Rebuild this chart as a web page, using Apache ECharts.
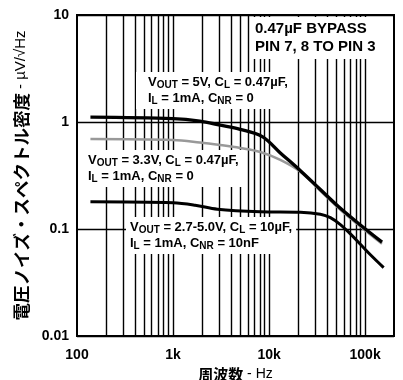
<!DOCTYPE html>
<html>
<head>
<meta charset="utf-8">
<script src="https://cdn.jsdelivr.net/npm/echarts@6/dist/echarts.min.js"></script>
<style>
    html, body { margin: 0; padding: 0; background: #fff; }
    #chart { width: 403px; height: 380px; }
</style>
</head>
<body>
<div id="chart"></div>
<script>
// 曲线数据 (频率 Hz, 噪声 µV/√Hz)
var freq5V = [138, 1000, 1900, 3100, 5000, 8500, 13100, 21200, 34200, 55300, 89300, 150000];
var noise5V = [1.11, 1.075, 1.02, 0.935, 0.855, 0.73, 0.514, 0.351, 0.234, 0.156, 0.109, 0.0754];

var freq33V = [138, 1000, 1900, 3100, 5000, 8100, 13100, 21200, 34200, 55300, 89300, 150000];
var noise33V = [0.692, 0.678, 0.643, 0.609, 0.572, 0.525, 0.443, 0.343, 0.227, 0.151, 0.1055, 0.0727];

var freq10uF = [138, 1000, 1700, 2900, 8100, 21200, 34200, 43500, 55300, 70300, 89300, 113600, 156000];
var noise10uF = [0.18, 0.176, 0.167, 0.153, 0.145, 0.1435, 0.1375, 0.1277, 0.11, 0.09, 0.072, 0.0575, 0.0436];

// 坐标轴刻度
var xTickLabels = { 2: '100', 3: '1k', 4: '10k', 5: '100k' };
var yTickLabels = { 1: '10', 0: '1', '-1': '0.1', '-2': '0.01' };
var gridFreqs = [];
[100, 1000, 10000].forEach(function (d) {
    for (var m = 2; m <= 10; m++) {
        gridFreqs.push(d * m);
    }
});

function pairs(xs, ys) {
    return xs.map(function (x, i) { return [x, ys[i]]; });
}

var chart = echarts.init(document.getElementById('chart'));

var noteRich = {
    t: { fontFamily: 'Liberation Sans', fontWeight: 'bold', fontSize: 13, fill: '#000' },
    s: { fontFamily: 'Liberation Sans', fontWeight: 'bold', fontSize: 10, fill: '#000', padding: [6, 0, 0, 0] }
};

function note(left, top, text, pad) {
    return {
        type: 'text',
        left: left,
        top: top,
        z: 1,
        style: {
            text: text,
            rich: noteRich,
            lineHeight: 16,
            fill: '#000',
            backgroundColor: '#fff',
            padding: pad
        }
    };
}

var option = {
    backgroundColor: '#fff',
    animation: false,
    grid: {
        left: 77,
        right: 9,
        top: 15,
        bottom: 44,
        outerBoundsMode: 'none',
        containLabel: false,
        show: true,
        borderColor: '#000',
        borderWidth: 2,
        backgroundColor: 'transparent'
    },
    xAxis: {
        type: 'log',
        logBase: 10,
        min: 100,
        max: 200000,
        axisLine: { show: false },
        axisTick: { show: false },
        splitLine: { show: false },
        axisLabel: {
            margin: 12,
            color: '#000',
            fontFamily: 'Liberation Sans',
            fontWeight: 'bold',
            fontSize: 14,
            formatter: function (v) {
                var k = Math.round(Math.log10(v));
                return Math.abs(Math.log10(v) - k) < 1e-6 && xTickLabels[k] ? xTickLabels[k] : '';
            }
        },
        name: '{b|周波数}{n| - Hz}',
        nameLocation: 'middle',
        nameGap: 28,
        nameTextStyle: {
            rich: {
                b: { fontFamily: 'Noto Sans CJK JP', fontWeight: 'bold', fontSize: 15, color: '#000' },
                n: { fontFamily: 'Liberation Sans', fontSize: 14, color: '#000' }
            }
        }
    },
    yAxis: {
        type: 'log',
        logBase: 10,
        min: 0.01,
        max: 10,
        axisLine: { show: false },
        axisTick: { show: false },
        splitLine: { show: true, lineStyle: { color: '#000', width: 1.3 } },
        axisLabel: {
            margin: 8,
            color: '#000',
            fontFamily: 'Liberation Sans',
            fontWeight: 'bold',
            fontSize: 14,
            formatter: function (v) {
                var k = Math.round(Math.log10(v));
                return yTickLabels[k] || '';
            }
        },
        name: '{b|電圧ノイズ・スペクトル密度}{n| - µV/√Hz}',
        nameLocation: 'middle',
        nameRotate: 90,
        nameGap: 47,
        nameTextStyle: {
            rich: {
                b: { fontFamily: 'Noto Sans CJK JP', fontWeight: 'bold', fontSize: 17.5, color: '#000' },
                n: { fontFamily: 'Liberation Sans', fontSize: 15, color: '#000' }
            }
        }
    },
    graphic: [
        {
            type: 'text',
            left: 251,
            top: 17,
            z: 1,
            style: {
                text: '0.47µF BYPASS\nPIN 7, 8 TO PIN 3',
                font: 'bold 15px "Liberation Sans"',
                lineHeight: 18,
                fill: '#000',
                backgroundColor: '#fff',
                padding: [3, 4, 3, 4]
            }
        },
        note(136, 72, '{t|V}{s|OUT}{t| = 5V, C}{s|L}{t| = 0.47µF,}\n{t|I}{s|L}{t| = 1mA, C}{s|NR}{t| = 0}', [2, 6, 3, 12]),
        note(84, 150, '{t|V}{s|OUT}{t| = 3.3V, C}{s|L}{t| = 0.47µF,}\n{t|I}{s|L}{t| = 1mA, C}{s|NR}{t| = 0}', [2, 4, 3, 4]),
        note(126, 217, '{t|V}{s|OUT}{t| = 2.7-5.0V, C}{s|L}{t| = 10µF,}\n{t|I}{s|L}{t| = 1mA, C}{s|NR}{t| = 10nF}', [2, 4, 3, 4])
    ],
    series: [
        {
            // 竖向网格线
            type: 'line',
            data: [],
            z: 0,
            silent: true,
            markLine: {
                z: 0,
                silent: true,
                symbol: 'none',
                label: { show: false },
                lineStyle: { color: '#000', width: 1.4, type: 'solid' },
                data: gridFreqs.map(function (f) { return { xAxis: f }; })
            }
        },
        {
            name: '3.3V',
            type: 'line',
            z: 3,
            data: pairs(freq33V, noise33V),
            showSymbol: false,
            smooth: 0.35,
            lineStyle: { color: '#999999', width: 2.5 }
        },
        {
            name: '5V',
            type: 'line',
            z: 4,
            data: pairs(freq5V, noise5V),
            showSymbol: false,
            smooth: 0.35,
            lineStyle: { color: '#000', width: 3.4 }
        },
        {
            name: '10uF',
            type: 'line',
            z: 4,
            data: pairs(freq10uF, noise10uF),
            showSymbol: false,
            smooth: 0.35,
            lineStyle: { color: '#000', width: 3 }
        }
    ]
};
chart.setOption(option);
</script>
</body>
</html>
